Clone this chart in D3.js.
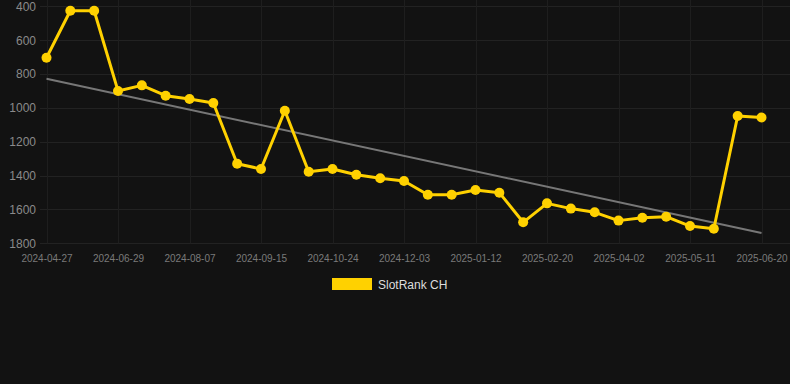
<!DOCTYPE html>
<html>
<head>
<meta charset="utf-8">
<script src="https://cdn.jsdelivr.net/npm/d3@7"></script>
<style>
  html, body { margin: 0; padding: 0; background: #121212; }
  svg { display: block; font-family: "Liberation Sans", Arial, sans-serif; }
</style>
</head>
<body>
<svg id="chart" width="790" height="384"></svg>
<script>
const dates = [
  "2024-04-27","2024-05-18","2024-06-08","2024-06-29","2024-07-12","2024-07-25",
  "2024-08-07","2024-08-20","2024-09-02","2024-09-15","2024-09-28","2024-10-11",
  "2024-10-24","2024-11-06","2024-11-20","2024-12-03","2024-12-16","2024-12-30",
  "2025-01-12","2025-01-25","2025-02-07","2025-02-20","2025-03-05","2025-03-19",
  "2025-04-02","2025-04-15","2025-04-28","2025-05-11","2025-05-24","2025-06-07",
  "2025-06-20"
];
const ranks = [
  704, 426, 426, 900, 867, 928, 948, 971, 1330, 1361, 1017,
  1377, 1361, 1395, 1416, 1432, 1513, 1513, 1485, 1501, 1676,
  1564, 1595, 1617, 1666, 1649, 1643, 1698, 1714, 1048, 1057
];
const yTicks = [400, 600, 800, 1000, 1200, 1400, 1600, 1800];
const xTickLabels = ["2024-04-27","2024-06-29","2024-08-07","2024-09-15","2024-10-24",
  "2024-12-03","2025-01-12","2025-02-20","2025-04-02","2025-05-11","2025-06-20"];
const seriesName = "SlotRank CH";

(function () {
const svg = d3.select("#chart");
const W = 790, H = 384;
const gridLeft = 40, gridRight = 790, plotTop = 6.3, plotBottom = 243.3;

const x = d3.scalePoint().domain(dates).range([46.5, 761.5]);
const y = d3.scaleLinear().domain([400, 1800]).range([plotTop, plotBottom]);

svg.append("rect").attr("width", W).attr("height", H).attr("fill", "#121212");

// horizontal grid
svg.append("g").selectAll("line").data(yTicks).join("line")
  .attr("x1", gridLeft).attr("x2", gridRight)
  .attr("y1", d => Math.round(y(d)) + 0.5).attr("y2", d => Math.round(y(d)) + 0.5)
  .attr("stroke", "#222222").attr("stroke-width", 1);

// vertical grid
svg.append("g").selectAll("line").data(xTickLabels).join("line")
  .attr("x1", d => Math.round(x(d)) + 0.5).attr("x2", d => Math.round(x(d)) + 0.5)
  .attr("y1", 0).attr("y2", plotBottom)
  .attr("stroke", "#1e1e1e").attr("stroke-width", 1);

// y axis
const yAxis = d3.axisLeft(y).tickValues(yTicks).tickFormat(d3.format("d"))
  .tickSize(0).tickPadding(0);
const gy = svg.append("g").attr("transform", "translate(36,0)").call(yAxis);
gy.select(".domain").remove();
gy.selectAll("text").attr("fill", "#8a8a8a").style("font-size", "12px")
  .style("font-family", "'Liberation Sans', Arial, sans-serif");

// x axis
const xAxis = d3.axisBottom(x).tickValues(xTickLabels).tickSize(0).tickPadding(0);
const gx = svg.append("g").attr("transform", "translate(0,255)").call(xAxis);
gx.select(".domain").remove();
gx.selectAll("text").attr("fill", "#7a7a7a").style("font-size", "10px")
  .style("font-family", "'Liberation Sans', Arial, sans-serif");

// trend line (least squares)
const n = ranks.length;
const idx = d3.range(n);
const mx = d3.mean(idx), my = d3.mean(ranks);
const slope = d3.sum(idx, i => (i - mx) * (ranks[i] - my)) / d3.sum(idx, i => (i - mx) ** 2);
const intercept = my - slope * mx;
svg.append("line")
  .attr("x1", x(dates[0])).attr("y1", y(intercept))
  .attr("x2", x(dates[n - 1])).attr("y2", y(intercept + slope * (n - 1)))
  .attr("stroke", "#777777").attr("stroke-width", 2);

// series line
const gold = "#FFD100";
svg.append("path")
  .datum(ranks)
  .attr("fill", "none").attr("stroke", gold).attr("stroke-width", 3)
  .attr("stroke-linejoin", "round")
  .attr("d", d3.line().x((d, i) => x(dates[i])).y(d => y(d)));

svg.append("g").selectAll("circle").data(ranks).join("circle")
  .attr("cx", (d, i) => x(dates[i])).attr("cy", d => y(d)).attr("r", 5)
  .attr("fill", gold);

// legend
svg.append("rect").attr("x", 332).attr("y", 278).attr("width", 40).attr("height", 12)
  .attr("fill", gold);
svg.append("text").attr("x", 378).attr("y", 288.5).text(seriesName)
  .attr("fill", "#dddddd").style("font-size", "12px");
})();
</script>
</body>
</html>
